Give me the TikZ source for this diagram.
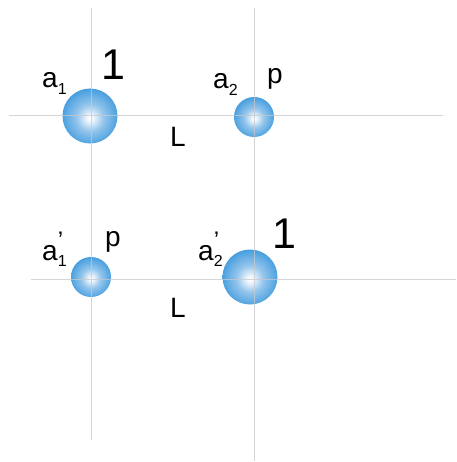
\documentclass[tikz,border=0pt]{standalone}
\usepackage{fontspec}
\setmainfont{Liberation Sans}
\usepackage{tikz}
\usetikzlibrary{positioning}
\definecolor{beadedge}{RGB}{28,118,188}
\definecolor{beadmid}{RGB}{70,158,223}
\definecolor{beadhi}{RGB}{150,198,236}
\definecolor{gridgray}{RGB}{200,200,205}
\pgfdeclareradialshading{bead}{\pgfpoint{0bp}{-2bp}}{color(0bp)=(white); color(3bp)=(white!85!beadhi); color(12bp)=(beadhi); color(26bp)=(beadmid); color(50bp)=(beadedge)}
\newcommand\lowidx[1]{\raisebox{-0.22em}{\fontsize{16}{16}\selectfont #1}}
\newcommand\primeidx[1]{\makebox[0pt][l]{\raisebox{0.42em}{\fontsize{24}{24}\selectfont ’}}\lowidx{#1}}
\tikzset{
  bead/.style={circle,shading=bead,inner sep=0pt},
  big/.style={bead,minimum size=55pt},
  small/.style={bead,minimum size=40pt},
  grid/.style={draw=gridgray,line width=1pt,opacity=.75},
  lb/.style={inner sep=0pt,anchor=base west,font=\fontsize{28}{28}\selectfont},
  wt/.style={inner sep=0pt,anchor=base west,font=\fontsize{43}{43}\selectfont},
}
\begin{document}
\begin{tikzpicture}[x=1pt,y=-1pt]
\useasboundingbox (0,0) rectangle (456,462);
% first pair
\node[big] (A1) at (90,116) {};
\node[small] (A2) at (254,117) {};
\node[lb] (a1) at (42,88) {a\lowidx{1}};
\node[lb] (a2) at (213,89) {a\lowidx{2}};
\node[wt] (w1) at (101,80) {1};
\node[lb] (p1) at (267,84) {p};
\node[lb] (L1) at (170,147) {L};
% second pair
\node[small] (B1) at (91,277) {};
\node[big] (B2) at (250,277) {};
\node[lb] (b1) at (42,260) {a\primeidx{1}};
\node[lb] (b2) at (198,260) {a\primeidx{2}};
\node[lb] (p2) at (105,246) {p};
\node[wt] (w2) at (272,248) {1};
\node[lb] (L2) at (170,317) {L};
% guide lines
\coordinate (v1t) at (91,8);   \coordinate (v1b) at (91,440);
\coordinate (v2t) at (254,8);  \coordinate (v2b) at (254,461);
\coordinate (h1l) at (9,116);  \coordinate (h1r) at (443,116);
\coordinate (h2l) at (31,279); \coordinate (h2r) at (456,279);
\draw[grid] (v1t)--(v1b) (v2t)--(v2b) (h1l)--(h1r) (h2l)--(h2r);
\end{tikzpicture}
\end{document}
